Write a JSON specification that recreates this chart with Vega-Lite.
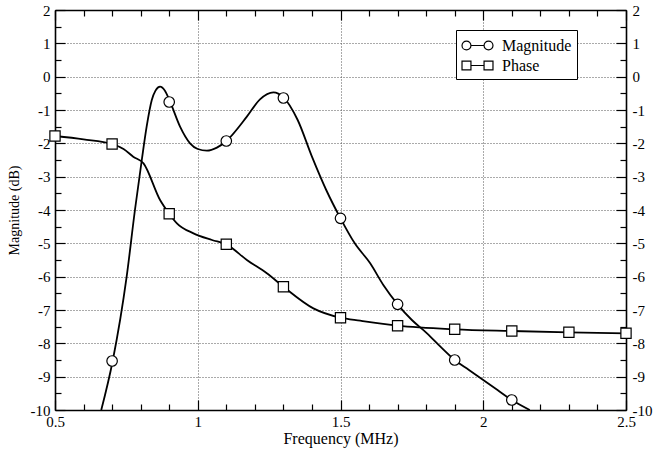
{
  "$schema": "https://vega.github.io/schema/vega-lite/v6.json",
  "width": 571,
  "height": 400,
  "autosize": {"type": "none"},
  "padding": {"left": 55, "top": 10, "right": 29, "bottom": 43},
  "background": "white",
  "config": {
    "font": "'Liberation Serif', 'Times New Roman', Times, serif",
    "view": {"stroke": null},
    "axis": {
      "labelFont": "'Liberation Serif', 'Times New Roman', Times, serif",
      "titleFont": "'Liberation Serif', 'Times New Roman', Times, serif",
      "labelColor": "black",
      "titleColor": "black",
      "labelFontSize": 15,
      "titleFontSize": 15,
      "titleFontWeight": "normal",
      "domainColor": "black",
      "tickColor": "black",
      "domainWidth": 1.6,
      "tickWidth": 1.2,
      "grid": false,
      "labelFlush": false,
      "labelOverlap": false,
      "labelBound": false
    },
    "legend": {
      "labelFont": "'Liberation Serif', 'Times New Roman', Times, serif"
    }
  },
  "datasets": {
    "curve": [
      {"series": "Magnitude", "x": 0.662, "y": -10.0},
      {"series": "Magnitude", "x": 0.702, "y": -8.53},
      {"series": "Magnitude", "x": 0.751, "y": -6.0},
      {"series": "Magnitude", "x": 0.780, "y": -4.0},
      {"series": "Magnitude", "x": 0.804, "y": -2.5},
      {"series": "Magnitude", "x": 0.821, "y": -1.5},
      {"series": "Magnitude", "x": 0.839, "y": -0.7},
      {"series": "Magnitude", "x": 0.852, "y": -0.42},
      {"series": "Magnitude", "x": 0.868, "y": -0.30},
      {"series": "Magnitude", "x": 0.885, "y": -0.42},
      {"series": "Magnitude", "x": 0.903, "y": -0.75},
      {"series": "Magnitude", "x": 0.938, "y": -1.5},
      {"series": "Magnitude", "x": 0.973, "y": -2.0},
      {"series": "Magnitude", "x": 1.0, "y": -2.17},
      {"series": "Magnitude", "x": 1.032, "y": -2.22},
      {"series": "Magnitude", "x": 1.067, "y": -2.13},
      {"series": "Magnitude", "x": 1.100, "y": -1.93},
      {"series": "Magnitude", "x": 1.172, "y": -1.2},
      {"series": "Magnitude", "x": 1.218, "y": -0.68},
      {"series": "Magnitude", "x": 1.265, "y": -0.47},
      {"series": "Magnitude", "x": 1.300, "y": -0.62},
      {"series": "Magnitude", "x": 1.35, "y": -1.3},
      {"series": "Magnitude", "x": 1.40, "y": -2.4},
      {"series": "Magnitude", "x": 1.45, "y": -3.4},
      {"series": "Magnitude", "x": 1.50, "y": -4.25},
      {"series": "Magnitude", "x": 1.55, "y": -5.0},
      {"series": "Magnitude", "x": 1.604, "y": -5.6},
      {"series": "Magnitude", "x": 1.65, "y": -6.25},
      {"series": "Magnitude", "x": 1.70, "y": -6.83},
      {"series": "Magnitude", "x": 1.75, "y": -7.3},
      {"series": "Magnitude", "x": 1.803, "y": -7.7},
      {"series": "Magnitude", "x": 1.85, "y": -8.1},
      {"series": "Magnitude", "x": 1.90, "y": -8.5},
      {"series": "Magnitude", "x": 1.95, "y": -8.8},
      {"series": "Magnitude", "x": 2.0, "y": -9.1},
      {"series": "Magnitude", "x": 2.05, "y": -9.4},
      {"series": "Magnitude", "x": 2.10, "y": -9.7},
      {"series": "Magnitude", "x": 2.163, "y": -10.0},
      {"series": "Phase", "x": 0.5, "y": -1.78},
      {"series": "Phase", "x": 0.6, "y": -1.88},
      {"series": "Phase", "x": 0.7, "y": -2.02},
      {"series": "Phase", "x": 0.74, "y": -2.17},
      {"series": "Phase", "x": 0.774, "y": -2.4},
      {"series": "Phase", "x": 0.81, "y": -2.6},
      {"series": "Phase", "x": 0.868, "y": -3.7},
      {"series": "Phase", "x": 0.9, "y": -4.11},
      {"series": "Phase", "x": 0.927, "y": -4.4},
      {"series": "Phase", "x": 0.985, "y": -4.7},
      {"series": "Phase", "x": 1.05, "y": -4.9},
      {"series": "Phase", "x": 1.1, "y": -5.03},
      {"series": "Phase", "x": 1.172, "y": -5.5},
      {"series": "Phase", "x": 1.242, "y": -5.9},
      {"series": "Phase", "x": 1.3, "y": -6.3},
      {"series": "Phase", "x": 1.405, "y": -6.95},
      {"series": "Phase", "x": 1.5, "y": -7.23},
      {"series": "Phase", "x": 1.569, "y": -7.32},
      {"series": "Phase", "x": 1.7, "y": -7.47},
      {"series": "Phase", "x": 1.9, "y": -7.58},
      {"series": "Phase", "x": 2.1, "y": -7.63},
      {"series": "Phase", "x": 2.3, "y": -7.67},
      {"series": "Phase", "x": 2.5, "y": -7.70}
    ],
    "markers": [
      {"series": "Magnitude", "x": 0.7, "y": -8.53},
      {"series": "Magnitude", "x": 0.9, "y": -0.76},
      {"series": "Magnitude", "x": 1.1, "y": -1.93},
      {"series": "Magnitude", "x": 1.3, "y": -0.64},
      {"series": "Magnitude", "x": 1.5, "y": -4.25},
      {"series": "Magnitude", "x": 1.7, "y": -6.83},
      {"series": "Magnitude", "x": 1.9, "y": -8.5},
      {"series": "Magnitude", "x": 2.1, "y": -9.7},
      {"series": "Phase", "x": 0.5, "y": -1.78},
      {"series": "Phase", "x": 0.7, "y": -2.02},
      {"series": "Phase", "x": 0.9, "y": -4.11},
      {"series": "Phase", "x": 1.1, "y": -5.03},
      {"series": "Phase", "x": 1.3, "y": -6.3},
      {"series": "Phase", "x": 1.5, "y": -7.23},
      {"series": "Phase", "x": 1.7, "y": -7.47},
      {"series": "Phase", "x": 1.9, "y": -7.58},
      {"series": "Phase", "x": 2.1, "y": -7.63},
      {"series": "Phase", "x": 2.3, "y": -7.67},
      {"series": "Phase", "x": 2.5, "y": -7.70}
    ]
  },
  "layer": [
    {
      "data": {"name": "curve"},
      "transform": [{"filter": "datum.series === 'Magnitude'"}],
      "mark": {"type": "line", "interpolate": "monotone", "color": "black", "strokeWidth": 1.8, "clip": true},
      "encoding": {
        "x": {"field": "x", "type": "quantitative", "scale": {"domain": [0.5, 2.5], "nice": false, "zero": false},
          "axis": {"orient": "bottom", "values": [0.5, 1, 1.5, 2, 2.5], "labelExpr": "'' + datum.value", "tickSize": -10, "labelPadding": 14, "grid": true, "gridDash": [1, 2], "gridColor": "#555", "gridWidth": 1, "title": "Frequency (MHz)", "titleFontSize": 16, "titlePadding": 1}},
        "y": {"field": "y", "type": "quantitative", "scale": {"domain": [-10, 2], "nice": false, "zero": false},
          "axis": {"orient": "left", "values": [-10, -9, -8, -7, -6, -5, -4, -3, -2, -1, 0, 1, 2], "labelExpr": "'' + datum.value", "tickSize": -10, "labelPadding": 15, "grid": true, "gridDash": [1, 2], "gridColor": "#555", "gridWidth": 1, "title": "Magnitude (dB)", "titleFontSize": 14, "titlePadding": 9}}
      }
    },
    {
      "data": {"name": "curve"},
      "transform": [{"filter": "datum.series === 'Phase'"}],
      "mark": {"type": "line", "interpolate": "monotone", "color": "black", "strokeWidth": 1.8, "clip": true},
      "encoding": {
        "x": {"field": "x", "type": "quantitative", "scale": {"domain": [0.5, 2.5], "nice": false, "zero": false},
          "axis": {"orient": "bottom", "values": [0.6, 0.7, 0.8, 0.9, 1.1, 1.2, 1.3, 1.4, 1.6, 1.7, 1.8, 1.9, 2.1, 2.2, 2.3, 2.4], "labels": false, "domain": false, "tickSize": -6, "title": null}},
        "y": {"field": "y", "type": "quantitative", "scale": {"domain": [-10, 2], "nice": false, "zero": false},
          "axis": {"orient": "left", "values": [-9.5, -8.5, -7.5, -6.5, -5.5, -4.5, -3.5, -2.5, -1.5, -0.5, 0.5, 1.5], "labels": false, "domain": false, "tickSize": -6, "title": null}}
      }
    },
    {
      "data": {"name": "markers"},
      "transform": [{"filter": "datum.series === 'Magnitude'"}],
      "mark": {"type": "point", "shape": "circle", "filled": true, "fill": "white", "stroke": "black", "strokeWidth": 1.2, "size": 110, "opacity": 1},
      "encoding": {
        "x": {"field": "x", "type": "quantitative", "scale": {"domain": [0.5, 2.5], "nice": false, "zero": false},
          "axis": {"orient": "top", "values": [0.5, 1, 1.5, 2, 2.5], "labels": false, "tickSize": -10, "title": null}},
        "y": {"field": "y", "type": "quantitative", "scale": {"domain": [-10, 2], "nice": false, "zero": false},
          "axis": {"orient": "right", "values": [-10, -9, -8, -7, -6, -5, -4, -3, -2, -1, 0, 1, 2], "labelExpr": "'' + datum.value", "tickSize": -10, "labelPadding": 16, "title": null}}
      }
    },
    {
      "data": {"name": "markers"},
      "transform": [{"filter": "datum.series === 'Phase'"}],
      "mark": {"type": "point", "shape": "square", "filled": true, "fill": "white", "stroke": "black", "strokeWidth": 1.2, "size": 105, "opacity": 1},
      "encoding": {
        "x": {"field": "x", "type": "quantitative", "scale": {"domain": [0.5, 2.5], "nice": false, "zero": false},
          "axis": {"orient": "top", "values": [0.6, 0.7, 0.8, 0.9, 1.1, 1.2, 1.3, 1.4, 1.6, 1.7, 1.8, 1.9, 2.1, 2.2, 2.3, 2.4], "labels": false, "domain": false, "tickSize": -6, "title": null}},
        "y": {"field": "y", "type": "quantitative", "scale": {"domain": [-10, 2], "nice": false, "zero": false},
          "axis": {"orient": "right", "values": [-9.5, -8.5, -7.5, -6.5, -5.5, -4.5, -3.5, -2.5, -1.5, -0.5, 0.5, 1.5], "labels": false, "domain": false, "tickSize": -6, "title": null}}
      }
    },
    {
      "data": {"name": "markers"},
      "transform": [{"filter": "datum.x > 100"}],
      "mark": {"type": "point", "filled": false, "stroke": "black", "strokeWidth": 1.2, "opacity": 1},
      "encoding": {
        "shape": {"field": "series", "type": "nominal",
          "scale": {"domain": ["Magnitude", "Phase"], "range": [
            "M-0.69,0C-0.69,0.26,-0.9,0.47,-1.16,0.47C-1.42,0.47,-1.63,0.26,-1.63,0C-1.63,-0.26,-1.42,-0.47,-1.16,-0.47C-0.9,-0.47,-0.69,-0.26,-0.69,0ZM1.63,0C1.63,0.26,1.42,0.47,1.16,0.47C0.9,0.47,0.69,0.26,0.69,0C0.69,-0.26,0.9,-0.47,1.16,-0.47C1.42,-0.47,1.63,-0.26,1.63,0ZM-0.69,0L0.69,0",
            "M-1.63,-0.47L-0.69,-0.47L-0.69,0.47L-1.63,0.47ZM0.69,-0.47L1.63,-0.47L1.63,0.47L0.69,0.47ZM-0.69,0L0.69,0"
          ]},
          "legend": {
            "title": null, "orient": "none", "legendX": 401, "legendY": 20, "padding": 5,
            "fillColor": "white", "strokeColor": "black",
            "labelFont": "'Liberation Serif', 'Times New Roman', Times, serif", "labelFontSize": 16, "labelColor": "black",
            "symbolSize": 361, "symbolOffset": 6, "labelOffset": 14, "rowPadding": 1,
            "symbolStrokeColor": "black", "symbolStrokeWidth": 1.2, "symbolOpacity": 1,
            "encoding": {"symbols": {"stroke": {"value": "black"}, "strokeWidth": {"value": 1.2}, "opacity": {"value": 1}, "strokeOpacity": {"value": 1}}}
          }}
      }
    }
  ],
  "resolve": {"axis": {"x": "independent", "y": "independent"}}
}
